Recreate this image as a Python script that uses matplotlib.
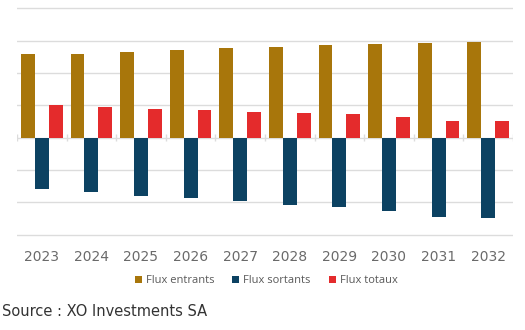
import matplotlib
matplotlib.use("Agg")
import matplotlib.pyplot as plt
import numpy as np

years = ["2023", "2024", "2025", "2026", "2027", "2028", "2029", "2030", "2031", "2032"]
flux_entrants = [26.0, 26.0, 26.5, 27.1, 27.7, 28.1, 28.6, 29.0, 29.4, 29.6]
flux_sortants = [-16.0, -16.8, -17.9, -18.7, -19.7, -20.9, -21.3, -22.8, -24.5, -24.8]
flux_totaux = [10.1, 9.6, 9.0, 8.5, 8.0, 7.6, 7.2, 6.4, 5.2, 5.2]
series_names = ["Flux entrants", "Flux sortants", "Flux totaux"]
colors = ["#A8760B", "#0C4262", "#E42B2C"]

W, H = 525, 330
fig = plt.figure(figsize=(W / 100, H / 100), dpi=100)

# axes placed so that gridlines land at -30..40 on the canvas
left_px, right_px = 17, 513
top_px, bot_px = 5.1, 237.9
ax = fig.add_axes([left_px / W, 1 - bot_px / H, (right_px - left_px) / W, (bot_px - top_px) / H])

x = np.arange(len(years))
bw = 0.28
for i, (vals, name, c) in enumerate(zip([flux_entrants, flux_sortants, flux_totaux], series_names, colors)):
    ax.bar(x + (i - 1) * bw, vals, width=bw, color=c, label=name, zorder=3)

ax.set_xlim(-0.5, len(years) - 0.5)
ax.set_ylim(-31, 41)
ax.set_yticks(np.arange(-30, 41, 10))
ax.yaxis.grid(True, color="#DCDCDC", linewidth=1.0, zorder=0)
ax.tick_params(axis="y", left=False, labelleft=False)
for s in ax.spines.values():
    s.set_visible(False)

# small category separator ticks on the zero line
ax.vlines(np.arange(len(years) + 1) - 0.5, -1.0, 1.0, color="#DCDCDC", linewidth=1.0, zorder=1)

ax.set_xticks(x)
ax.set_xticklabels(years, fontsize=10, color="#6A6A6A", family="DejaVu Sans")
ax.tick_params(axis="x", bottom=False, pad=5)

ax.legend(loc="center", bbox_to_anchor=(0.507, 1 - 280.7 / H), bbox_transform=fig.transFigure,
          ncol=3, frameon=False, prop={"family": "Open Sans", "size": 8},
          labelcolor="#595959", handlelength=0.65, handleheight=0.65, handletextpad=0.35,
          columnspacing=1.6, borderaxespad=0)

fig.text(2 / W, 1 - 311.7 / H, "Source : XO Investments SA", fontsize=10.5, color="#333333",
         family="DejaVu Sans", va="center", ha="left")

fig.savefig("out.png", dpi=100)
